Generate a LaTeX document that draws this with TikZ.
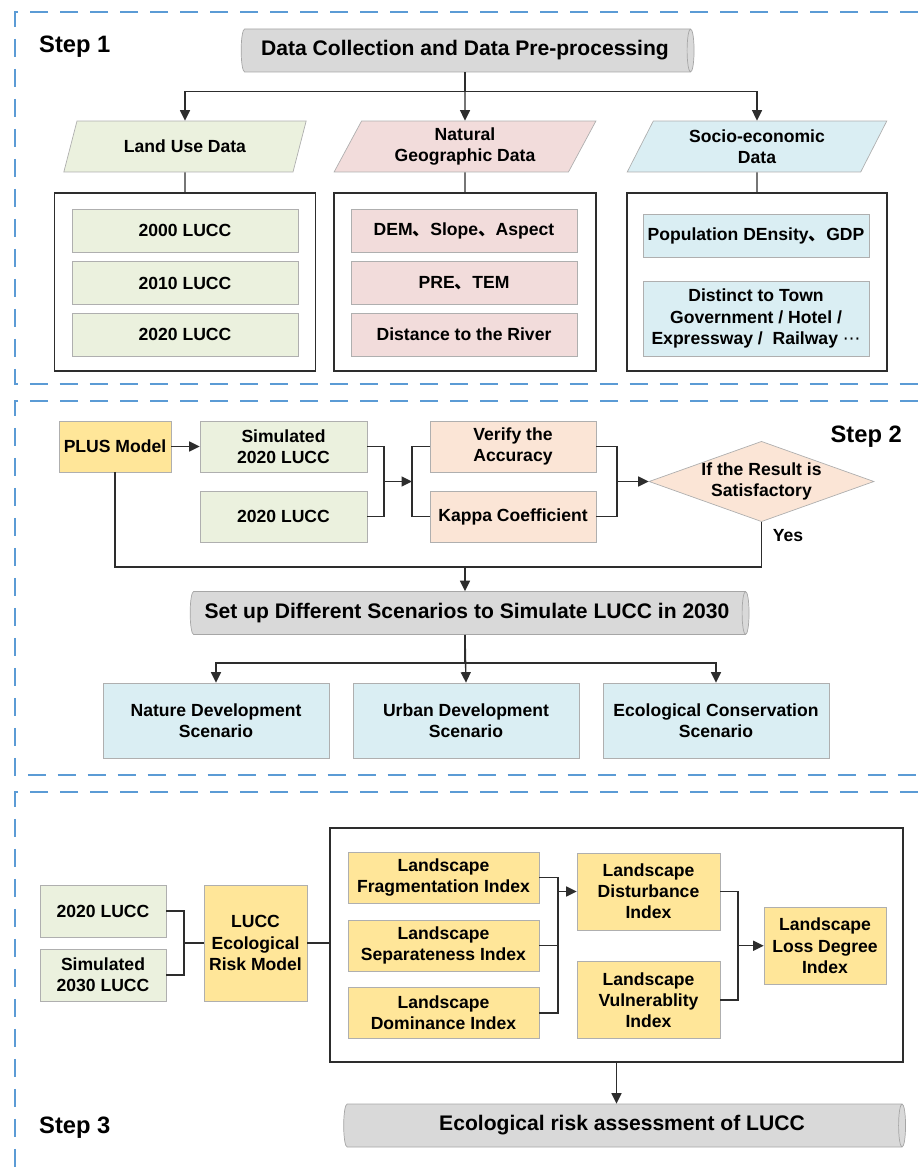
\documentclass[tikz,border=0pt]{standalone}
\usepackage{fontspec}
\setmainfont{Liberation Sans}
\newfontfamily\cjk{Noto Sans CJK SC}
\newfontfamily\symfont{DejaVu Sans}
\usepackage{tikz}
\usetikzlibrary{shapes.geometric,arrows.meta}
\definecolor{frameblue}{RGB}{91,155,213}
\definecolor{cylgray}{RGB}{217,217,217}
\definecolor{cylborder}{RGB}{166,166,166}
\definecolor{boxborder}{RGB}{175,175,175}
\definecolor{linegray}{RGB}{45,45,45}
\definecolor{greenfill}{RGB}{235,241,222}
\definecolor{pinkfill}{RGB}{242,220,219}
\definecolor{bluefill}{RGB}{218,238,243}
\definecolor{yellowfill}{RGB}{255,230,153}
\definecolor{peachfill}{RGB}{251,229,214}
\newcommand{\dun}{{\cjk 、}}

\begin{document}
\begin{tikzpicture}[x=0.02cm,y=-0.02cm,
font=\bfseries\fontsize{10}{12}\selectfont,
sectframe/.style={draw=frameblue,line width=1.1pt,dash pattern=on 0.36cm off 0.24cm},
steplabel/.style={font=\bfseries\fontsize{13.5}{16}\selectfont},
cyl/.style={cylinder,draw=cylborder,fill=cylgray,aspect=0.3,minimum width=0.86cm,inner sep=1pt,
  font=\bfseries\fontsize{12}{14}\selectfont},
para/.style={trapezium,trapezium left angle=65,trapezium right angle=115,trapezium stretches=true,
  draw=boxborder,minimum width=4.88cm,minimum height=1.02cm,align=center,inner sep=1pt},
databox/.style={draw=boxborder,minimum width=4.52cm,minimum height=0.86cm,align=center,inner sep=1pt},
grpbox/.style={draw=linegray,line width=0.7pt,fill=white},
conn/.style={draw=linegray,line width=0.8pt},
arr/.style={conn,-{Triangle[length=2.1mm,width=2mm]}}]
\useasboundingbox (0,0) rectangle (918,1175);

% section frames
\draw[sectframe] (918,12) -- (15,12) -- (15,384) -- (918,384);
\draw[sectframe] (918,401) -- (15,401) -- (15,775) -- (918,775);
\draw[sectframe] (918,792) -- (15,792) -- (15,1175);
\node[steplabel,anchor=west] (s1) at (33,47) {Step 1};
\node[steplabel,anchor=east] (s2) at (908,437) {Step 2};
\node[steplabel,anchor=west] (s3) at (33,1128) {Step 3};

%%% Step 1
\node[cyl,minimum height=9.06cm] (collect) at (465,50.5) {Data Collection and Data Pre-processing};
\node[para,fill=greenfill] (landuse) at (185,146.5) {Land Use Data};
\node[para,fill=pinkfill,minimum width=5.24cm] (natural) at (465,146.5) {Natural\\Geographic Data};
\node[para,fill=bluefill,minimum width=5.24cm] (socio) at (757,146.5) {Socio-economic\\Data};

\node[grpbox,minimum width=5.22cm,minimum height=3.56cm] (landgrp) at (185,282) {};
\node[grpbox,minimum width=5.24cm,minimum height=3.56cm] (natgrp) at (465,282) {};
\node[grpbox,minimum width=5.2cm,minimum height=3.56cm] (sociogrp) at (757,282) {};

\node[databox,fill=greenfill] (lucc00) at (185,230.5) {2000 LUCC};
\node[databox,fill=greenfill] (lucc10) at (185,283) {2010 LUCC};
\node[databox,fill=greenfill] (lucc20) at (185,334.5) {2020 LUCC};
\node[databox,fill=pinkfill] (dem) at (464,230.5) {DEM\dun Slope\dun Aspect};
\node[databox,fill=pinkfill] (pretem) at (464,283) {PRE\dun TEM};
\node[databox,fill=pinkfill] (river) at (464,334.5) {Distance to the River};
\node[databox,fill=bluefill] (popgdp) at (756,235.5) {Population DEnsity\dun GDP};
\node[databox,fill=bluefill,minimum height=1.5cm] (dist) at (756,318.5)
  {Distinct to Town\\Government / Hotel /\\Expressway /\ \ Railway {\symfont\mdseries ⋯}};

\draw[arr] (collect.south) -- (natural.north);
\draw[arr] (collect.south) -- ++(0,19) -| (landuse.north);
\draw[arr] (collect.south) -- ++(0,19) -| (socio.north);
\draw[conn] (landuse.south) -- (landgrp.north);
\draw[conn] (natural.south) -- (natgrp.north);
\draw[conn] (socio.south) -- (sociogrp.north);

%%% Step 2
\node[databox,fill=yellowfill,minimum width=2.24cm,minimum height=1.02cm] (plus) at (115,446.5) {PLUS Model};
\node[databox,fill=greenfill,minimum width=3.34cm,minimum height=1.02cm] (sim20) at (283.5,446.5) {Simulated\\2020 LUCC};
\node[databox,fill=greenfill,minimum width=3.34cm,minimum height=1.02cm] (real20) at (283.5,516.5) {2020 LUCC};
\node[databox,fill=peachfill,minimum width=3.32cm,minimum height=1.02cm] (verify) at (513,446.5) {Verify the\\Accuracy};
\node[databox,fill=peachfill,minimum width=3.32cm,minimum height=1.02cm] (kappa) at (513,516.5) {Kappa Coefficient};
\node[diamond,draw=boxborder,fill=peachfill,aspect=2.8,minimum width=4.38cm,minimum height=1.58cm,
  inner sep=0pt,align=center] (satis) at (761.5,481.5) {If the Result is\\Satisfactory};
\node (yes) at (788,536) {Yes};

\coordinate (j1) at (384,481.5);
\coordinate (j2) at (412,481.5);
\coordinate (j3) at (617,481.5);
\coordinate (j4) at (465,567);

\draw[arr] (plus) -- (sim20);
\draw[conn] (sim20.east) -- (j1 |- sim20.east) |- (real20.east);
\draw[arr] (j1) -- (j2);
\draw[conn] (verify.west) -- (j2 |- verify.west) |- (kappa.west);
\draw[conn] (verify.east) -- (j3 |- verify.east) |- (kappa.east);
\draw[arr] (j3) -- (satis.west);
\draw[conn] (plus.south) |- (j4) -| (satis.south);

\node[cyl,minimum height=11.18cm] (scen) at (467,613) {Set up Different Scenarios to Simulate LUCC in 2030};
\draw[arr] (j4) -- (j4 |- scen.north);

\node[databox,fill=bluefill,minimum height=1.5cm] (nature) at (216,720.5) {Nature Development\\Scenario};
\node[databox,fill=bluefill,minimum height=1.5cm] (urban) at (466,720.5) {Urban Development\\Scenario};
\node[databox,fill=bluefill,minimum height=1.5cm] (ecocons) at (716,720.5) {Ecological Conservation\\Scenario};

\draw[arr] (j4 |- scen.south) -- (urban.north);
\draw[arr] (j4 |- scen.south) -- ++(0,28) -| (nature.north);
\draw[arr] (j4 |- scen.south) -- ++(0,28) -| (ecocons.north);

%%% Step 3
\node[grpbox,minimum width=11.46cm,minimum height=4.68cm] (indexgrp) at (616.5,945) {};
\node[databox,fill=greenfill,minimum width=2.52cm,minimum height=1.04cm] (base20) at (103,911) {2020 LUCC};
\node[databox,fill=greenfill,minimum width=2.52cm,minimum height=1.04cm] (sim30) at (103,975) {Simulated\\2030 LUCC};
\node[databox,fill=yellowfill,minimum width=2.06cm,minimum height=2.32cm] (riskmodel) at (255.5,943) {LUCC\\Ecological\\Risk Model};

\node[databox,fill=yellowfill,minimum width=3.82cm,minimum height=1.02cm] (frag) at (443.5,877.5) {Landscape\\Fragmentation Index};
\node[databox,fill=yellowfill,minimum width=3.82cm,minimum height=1.02cm] (sep) at (443.5,945.5) {Landscape\\Separateness Index};
\node[databox,fill=yellowfill,minimum width=3.82cm,minimum height=1.02cm] (dom) at (443.5,1013) {Landscape\\Dominance Index};
\node[databox,fill=yellowfill,minimum width=2.86cm,minimum height=1.54cm] (disturb) at (648.5,891.5) {Landscape\\Disturbance\\Index};
\node[databox,fill=yellowfill,minimum width=2.86cm,minimum height=1.54cm] (vuln) at (648.5,1000) {Landscape\\Vulnerablity\\Index};
\node[databox,fill=yellowfill,minimum width=2.44cm,minimum height=1.54cm] (loss) at (825,945.75) {Landscape\\Loss Degree\\Index};

\coordinate (j5) at (184,943);
\coordinate (j6) at (558,891.5);
\coordinate (j7) at (738,945.75);

\draw[conn] (base20.east) -- (j5 |- base20.east) |- (sim30.east);
\draw[conn] (j5) -- (riskmodel.west);
\draw[conn] (riskmodel.east) -- (riskmodel.east -| indexgrp.west);
\draw[conn] (frag.east) -- (j6 |- frag.east) |- (dom.east);
\draw[conn] (sep.east) -- (j6 |- sep.east);
\draw[arr] (j6) -- (disturb.west);
\draw[conn] (disturb.east) -- (j7 |- disturb.east) |- (vuln.east);
\draw[arr] (j7) -- (loss.west);

\node[cyl,minimum height=11.24cm] (assess) at (622,1125.5) {Ecological risk assessment of LUCC};
\draw[arr] (indexgrp.south) -- (indexgrp.south |- assess.north);
\end{tikzpicture}
\end{document}
